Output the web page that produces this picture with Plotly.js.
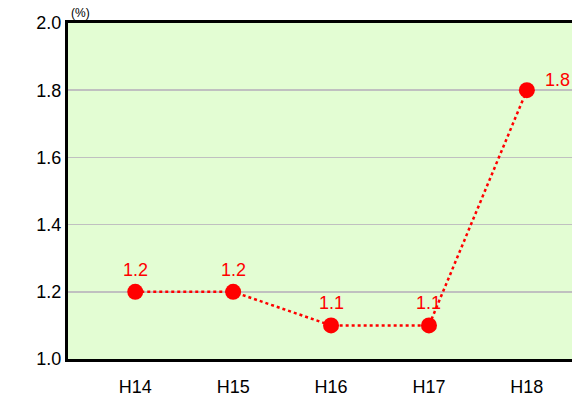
<!DOCTYPE html>
<html><head><meta charset="utf-8">
<script src="https://cdn.plot.ly/plotly-3.0.1.min.js"></script>
<style>html,body{margin:0;padding:0;background:#fff}#chart{width:572px;height:405px}</style>
</head><body><div id="chart"></div>
<script>
const categories = ["H14", "H15", "H16", "H17", "H18"];
const values = [1.2, 1.2, 1.1, 1.1, 1.8];
const yTicks = [1.0, 1.2, 1.4, 1.6, 1.8, 2.0];

const font = "Liberation Sans, Arial, sans-serif";
const trace = {
  x: categories, y: values, type: "scatter", mode: "lines+markers",
  line: {color: "#ff0000", width: 2.5, dash: "dot"},
  marker: {color: "#ff0000", size: 16},
  cliponaxis: false, hoverinfo: "skip"
};
const labelAnnotations = categories.map((c, i) => {
  const last = i === categories.length - 1;
  return {
    x: c, y: values[i], xref: "x", yref: "y", text: values[i].toFixed(1),
    showarrow: false, xanchor: "center", yanchor: "middle",
    xshift: last ? 31 : 0, yshift: last ? 10 : 22,
    font: {family: font, size: 18, color: "#ff0000"}
  };
});
const layout = {
  width: 572, height: 405,
  margin: {l: 68, r: 0, t: 23, b: 46},
  paper_bgcolor: "#ffffff", plot_bgcolor: "#e3fdd3",
  showlegend: false,
  font: {family: font, size: 18, color: "#000000"},
  xaxis: {type: "category", range: [-0.687, 4.461], showgrid: false, zeroline: false,
    showline: true, linecolor: "#000", linewidth: 3, mirror: true,
    ticks: "", ticklabelstandoff: 9, tickfont: {size: 18, color: "#000000"}},
  yaxis: {range: [1.0, 2.0], tickvals: yTicks, ticktext: yTicks.map(v => v.toFixed(1)),
    showgrid: true, gridcolor: "#c0c0c0", gridwidth: 1.5, zeroline: false,
    showline: true, linecolor: "#000", linewidth: 3, ticks: "", ticklabelstandoff: 0,
    tickfont: {size: 18, color: "#000000"}},
  annotations: [{text: "(%)", xref: "paper", yref: "paper", x: 0.025, y: 1, yanchor: "bottom",
    xanchor: "center", showarrow: false, yshift: 1, font: {size: 12, family: font, color: "#000000"}}].concat(labelAnnotations)
};
Plotly.newPlot("chart", [trace], layout, {staticPlot: true, displayModeBar: false});
</script></body></html>
